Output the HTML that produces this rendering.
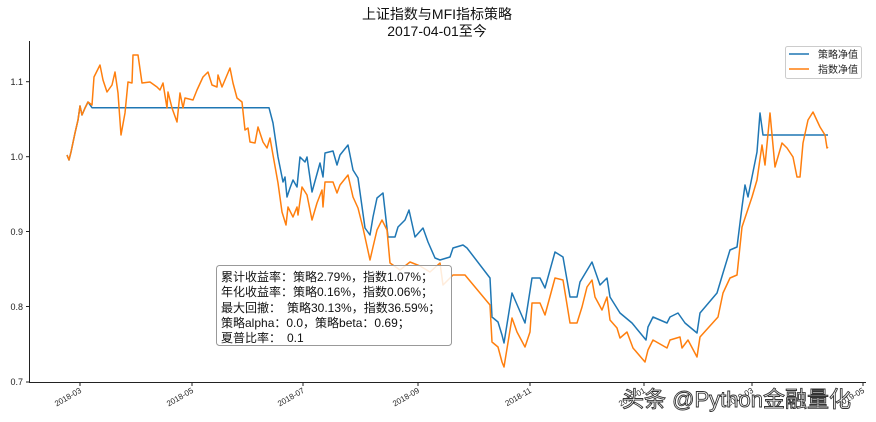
<!DOCTYPE html>
<html><head><meta charset="utf-8"><style>
html,body{margin:0;padding:0;background:#fff;}
svg{display:block;}
text{font-family:"Liberation Sans","Noto Sans CJK SC",sans-serif;}
</style></head><body>
<svg width="876" height="422" viewBox="0 0 876 422" xmlns="http://www.w3.org/2000/svg">
<text x="437" y="19" font-size="14" text-anchor="middle" fill="#111">上证指数与MFI指标策略</text>
<text x="437" y="36" font-size="14" text-anchor="middle" fill="#111">2017-04-01至今</text>
<!-- axes -->
<line x1="29.5" y1="41" x2="29.5" y2="382.5" stroke="#222" stroke-width="1"/>
<line x1="29" y1="382.5" x2="866" y2="382.5" stroke="#222" stroke-width="1"/>
<g stroke="#222" stroke-width="1">
<line x1="26" y1="81.7" x2="29.5" y2="81.7"/><line x1="26" y1="156.7" x2="29.5" y2="156.7"/><line x1="26" y1="231.5" x2="29.5" y2="231.5"/><line x1="26" y1="306.5" x2="29.5" y2="306.5"/><line x1="26" y1="382" x2="29.5" y2="382"/>
<line x1="80" y1="382.5" x2="80" y2="386"/><line x1="192" y1="382.5" x2="192" y2="386"/><line x1="303" y1="382.5" x2="303" y2="386"/><line x1="418" y1="382.5" x2="418" y2="386"/><line x1="530" y1="382.5" x2="530" y2="386"/><line x1="644" y1="382.5" x2="644" y2="386"/><line x1="752" y1="382.5" x2="752" y2="386"/><line x1="863" y1="382.5" x2="863" y2="386"/>
</g>
<g font-size="9" fill="#222" text-anchor="end">
<text x="23" y="85">1.1</text><text x="23" y="160">1.0</text><text x="23" y="235">0.9</text><text x="23" y="310">0.8</text><text x="23" y="385">0.7</text>
</g>
<g font-size="8" fill="#222" text-anchor="end">
<text transform="translate(82,392) rotate(-30)">2018-03</text>
<text transform="translate(194,392) rotate(-30)">2018-05</text>
<text transform="translate(305,392) rotate(-30)">2018-07</text>
<text transform="translate(420,392) rotate(-30)">2018-09</text>
<text transform="translate(532,392) rotate(-30)">2018-11</text>
<text transform="translate(646,392) rotate(-30)">2019-01</text>
<text transform="translate(754,392) rotate(-30)">2019-03</text>
<text transform="translate(865,392) rotate(-30)">2019-05</text>
</g>
<!-- blue -->
<polyline fill="none" stroke="#1f77b4" stroke-width="1.5" stroke-linejoin="round" points="67,155 69,160 71,152 75,133 78,120 80,106 82,115 85,108 88,102 92,107.7 269,107.7 273,123 278,157 283,182 285,177 287,197 290,188 293,180 297,187 300,157 305,162 307,157 312,192 320,163 323,177 325,153 333,151 337,165 340,155 348,145 353,170 358,178 365,228 370,235 373,217 377,198 383,193 388,237 395,237 398,227 405,220 409,210 415,237 423,228 428,242 435,258 440,260 450,257 453,248 463,245 467,248 490,278 492,317 498,322 502,335 504,343 512,293 525,323 532,278 540,278 545,288 555,252 563,257 570,297 577,297 580,282 592,262 600,285 607,278 610,297 620,313 632,323 646,340 648,327 653,317 667,323 670,317 678,313 685,323 697,333 700,313 717,293 723,273 730,250 737,247 742,207 745,185 748,197 757,152 760,113 763,135 828,135"/>
<!-- orange -->
<polyline fill="none" stroke="#ff7f0e" stroke-width="1.5" stroke-linejoin="round" points="67,155 69,160 71,152 75,133 78,120 80,106 82,115 85,108 88,102 92,105 94,77 100,65 103,80 107,92 112,85 115,72 118,93 121,135 125,113 128,82 132,83 133,55 138,55 142,83 150,82 157,87 160,90 163,83 167,108 168,92 172,108 177,122 180,93 183,108 185,98 193,100 197,90 203,77 208,72 212,85 217,87 218,75 222,87 230,68 233,83 237,98 242,102 245,130 248,128 250,142 255,143 258,127 263,142 267,148 270,138 273,155 278,183 282,212 286,225 288,207 293,217 297,207 298,215 302,187 307,195 312,220 317,203 322,190 323,207 325,182 333,182 337,193 340,185 348,175 353,197 358,208 363,228 370,260 373,247 377,230 382,220 387,230 390,263 400,270 410,262 420,266 430,272 440,263 443,285 453,275 465,275 490,305 492,342 498,347 502,362 504,367 512,318 517,332 525,347 530,332 532,303 540,303 545,315 555,278 563,280 570,323 577,323 582,307 587,287 592,280 595,297 602,310 607,297 610,320 617,328 620,338 627,332 633,348 645,362 648,350 653,340 667,348 670,340 680,337 682,348 688,340 697,357 700,337 718,317 723,293 730,278 737,275 742,227 747,212 752,197 757,180 762,145 765,165 770,113 775,167 782,143 787,148 793,157 797,177 800,177 803,143 808,120 813,112 820,127 825,135 827,148 828,147"/>
<!-- legend -->
<rect x="785.5" y="46.5" width="76" height="32" rx="2" fill="#fff" fill-opacity="0.8" stroke="#ccc"/>
<line x1="789" y1="54" x2="809" y2="54" stroke="#1f77b4" stroke-width="1.5"/>
<line x1="789" y1="69" x2="809" y2="69" stroke="#ff7f0e" stroke-width="1.5"/>
<text x="818" y="58" font-size="10" fill="#222">策略净值</text>
<text x="818" y="73" font-size="10" fill="#222">指数净值</text>
<!-- stats box -->
<rect x="216.5" y="265.5" width="235" height="80" rx="3" fill="#fff" fill-opacity="0.85" stroke="#999"/>
<g font-size="12" fill="#111">
<text x="221" y="281">累计收益率：策略2.79%，指数1.07%；</text>
<text x="221" y="296">年化收益率：策略0.16%，指数0.06%；</text>
<text x="221" y="312">最大回撤：　策略30.13%，指数36.59%；</text>
<text x="221" y="327">策略alpha：0.0，策略beta：0.69；</text>
<text x="221" y="342">夏普比率：　0.1</text>
</g>
<!-- watermark -->
<text x="622" y="407" font-size="22" fill="#fff" stroke="#333" stroke-width="0.9">头条 @Python金融量化</text>
</svg>
</body></html>
